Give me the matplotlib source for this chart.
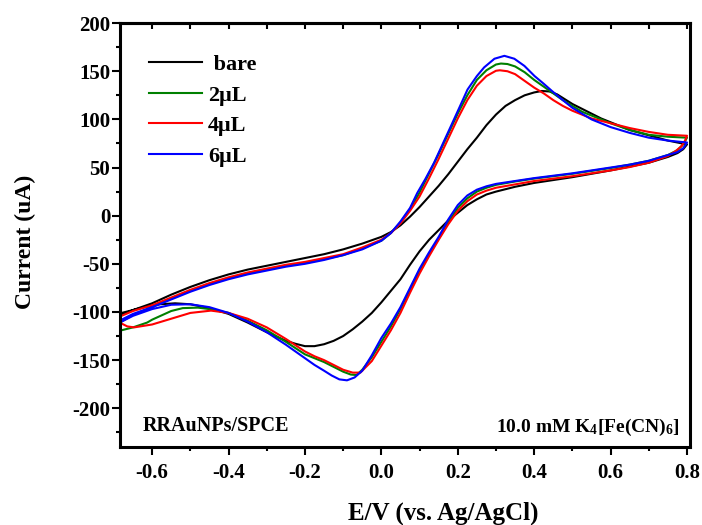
import matplotlib
matplotlib.use("Agg")
import matplotlib.pyplot as plt
from matplotlib.ticker import MultipleLocator

plt.rcParams["font.family"] = ["Liberation Serif", "DejaVu Serif"]
plt.rcParams["font.weight"] = "bold"
plt.rcParams["axes.unicode_minus"] = False
plt.rcParams["mathtext.fontset"] = "custom"
plt.rcParams["mathtext.rm"] = "Liberation Serif:bold"
plt.rcParams["mathtext.default"] = "rm"

# =========================================================
# Data: forward scan, then reverse scan
# =========================================================
bare_E = [-0.68, -0.65, -0.6, -0.55, -0.5, -0.45, -0.4, -0.35, -0.3, -0.25, -0.2, -0.15,
          -0.1, -0.05, 0.0, 0.025, 0.05, 0.075, 0.1, 0.125, 0.15, 0.175, 0.2, 0.225,
          0.25, 0.275, 0.3, 0.325, 0.35, 0.375, 0.4, 0.42, 0.44, 0.46, 0.48, 0.5,
          0.525, 0.55, 0.575, 0.6, 0.65, 0.7, 0.75, 0.8,
          0.79, 0.775, 0.75, 0.7, 0.65, 0.6, 0.55, 0.5, 0.45, 0.4, 0.35, 0.3, 0.275,
          0.25, 0.225, 0.2, 0.175, 0.15, 0.125, 0.1, 0.075, 0.05, 0.025, 0.0, -0.025,
          -0.05, -0.075, -0.1, -0.125, -0.15, -0.175, -0.2, -0.225, -0.25, -0.3, -0.35,
          -0.4, -0.45, -0.5, -0.54, -0.58, -0.62, -0.65, -0.68]
bare_I = [-103, -98, -91, -82, -74, -67, -61, -56, -52, -48, -44, -40,
          -35, -29, -22, -17, -10, -1, 9, 20, 31, 43, 56, 69,
          81, 94, 105, 114, 120, 125, 128, 129.5, 129, 126, 121, 116,
          111, 106, 101, 97, 89, 83.5, 78, 74,
          69, 65, 61, 55, 51, 47, 43.5, 40, 37, 34, 30, 25, 22,
          17, 11, 3, -5, -15, -25, -37, -51, -66, -78, -90, -101,
          -110, -118, -125, -130, -133.5, -135.5, -135.5, -133, -130, -121, -111,
          -102, -96, -92, -91, -92, -95, -98, -101]

ul2_E = [-0.68, -0.65, -0.6, -0.55, -0.5, -0.45, -0.4, -0.35, -0.3, -0.25, -0.2, -0.15,
         -0.1, -0.05, 0.0, 0.025, 0.05, 0.075, 0.1, 0.125, 0.15, 0.175, 0.2, 0.225,
         0.25, 0.275, 0.3, 0.313, 0.33, 0.35, 0.375, 0.4, 0.425, 0.45, 0.475, 0.5,
         0.525, 0.55, 0.6, 0.65, 0.7, 0.75, 0.8,
         0.79, 0.775, 0.75, 0.7, 0.65, 0.6, 0.55, 0.5, 0.45, 0.4, 0.35, 0.3, 0.275,
         0.25, 0.225, 0.2, 0.175, 0.15, 0.125, 0.1, 0.075, 0.05, 0.025, 0.0, -0.025,
         -0.05, -0.065, -0.08, -0.1, -0.125, -0.15, -0.175, -0.2, -0.25, -0.3, -0.35,
         -0.4, -0.45, -0.48, -0.52, -0.55, -0.6, -0.613, -0.65, -0.68]
ul2_I = [-110, -103, -95, -86, -78, -71, -65, -60, -56, -52, -49, -45,
         -41, -34, -26, -18, -7, 7, 24, 44, 64, 85, 106, 125,
         141, 151, 157, 158, 157.5, 155, 149, 141, 134, 127, 120, 114,
         108, 104, 96, 89, 84, 82, 81,
         74, 68, 63, 57, 53, 49.5, 46.5, 43.5, 41, 38.5, 35.5, 32, 29,
         25, 18, 8, -7, -24, -40, -57, -77, -97, -115, -131, -147,
         -160, -165.5, -165, -162, -157, -152, -148, -144, -131, -119, -109,
         -101, -97, -95.5, -96, -99, -108, -111, -116, -119]

ul4_E = [-0.68, -0.65, -0.6, -0.55, -0.5, -0.45, -0.4, -0.35, -0.3, -0.25, -0.2, -0.15,
         -0.1, -0.05, 0.0, 0.025, 0.05, 0.075, 0.1, 0.125, 0.15, 0.175, 0.2, 0.225,
         0.25, 0.275, 0.3, 0.31, 0.33, 0.35, 0.375, 0.4, 0.425, 0.45, 0.475, 0.5,
         0.55, 0.6, 0.65, 0.7, 0.75, 0.8,
         0.795, 0.785, 0.77, 0.75, 0.7, 0.65, 0.6, 0.55, 0.5, 0.45, 0.4, 0.35, 0.3,
         0.275, 0.25, 0.225, 0.2, 0.175, 0.15, 0.125, 0.1, 0.075, 0.05, 0.025, 0.0,
         -0.025, -0.055, -0.075, -0.1, -0.125, -0.15, -0.175, -0.2, -0.25, -0.3, -0.35,
         -0.4, -0.446, -0.5, -0.55, -0.6, -0.647, -0.665, -0.68]
ul4_I = [-104, -99, -93, -85, -77, -70, -64, -59, -55, -51, -48, -44,
         -40, -33, -25, -18, -8, 5, 20, 39, 59, 80, 101, 120,
         135, 145, 150.5, 151, 150, 147, 140, 133, 127, 120, 114, 109,
         101, 96, 91, 87, 84, 83,
         78, 72, 67, 62, 55, 50.5, 47, 44, 41, 38.5, 36, 32.5, 29,
         26, 22, 15, 5, -9, -25, -42, -60, -80, -101, -119, -135,
         -151, -163, -163, -160, -155, -150, -146, -141, -128, -116, -107,
         -101, -98.6, -101, -107, -113, -116, -115, -112]

ul6_E = [-0.68, -0.65, -0.6, -0.55, -0.5, -0.45, -0.4, -0.35, -0.3, -0.25, -0.2, -0.15,
         -0.1, -0.05, 0.0, 0.025, 0.05, 0.075, 0.094, 0.115, 0.138, 0.16, 0.182, 0.205,
         0.2255, 0.25, 0.269, 0.296, 0.322, 0.348, 0.3745, 0.401, 0.425, 0.445, 0.475,
         0.5, 0.525, 0.55, 0.6, 0.65, 0.7, 0.75, 0.8,
         0.79, 0.775, 0.75, 0.7, 0.65, 0.6, 0.55, 0.5, 0.45, 0.4, 0.35, 0.3, 0.275,
         0.25, 0.225, 0.2, 0.175, 0.15, 0.125, 0.1, 0.075, 0.05, 0.025, 0.0, -0.025,
         -0.05, -0.07, -0.09, -0.11, -0.13, -0.15, -0.175, -0.2, -0.25, -0.3, -0.35,
         -0.4, -0.45, -0.5, -0.55, -0.6, -0.65, -0.68]
ul6_I = [-108, -102, -95, -87, -79, -72, -66, -61, -57, -53, -50, -46,
         -41, -35, -26, -18, -6, 8, 23.6, 38, 55, 74, 93, 113,
         131, 145, 154, 163, 166, 163, 155.5, 145, 137, 130, 120,
         112, 106, 100, 92, 86, 81, 78, 76,
         70, 66, 63, 57, 53, 50, 47, 44, 41.5, 39, 36, 33, 30.5,
         27, 21, 11, -4, -22, -38, -55, -75, -95, -112, -127, -145,
         -161, -168, -171, -170, -166, -161, -155, -148, -134, -121, -110,
         -101, -95, -92, -92.5, -97, -104, -110]

labels = [" bare", "2\u03bcL", "4\u03bcL", "6\u03bcL"]
colors = ["black", "green", "red", "blue"]

# =========================================================
# Plot
# =========================================================
fig = plt.figure(figsize=(7.02, 5.25), dpi=100)
ax = fig.add_axes([0.171, 0.149, 0.812, 0.807])

curves = [(bare_E, bare_I), (ul2_E, ul2_I), (ul4_E, ul4_I), (ul6_E, ul6_I)]
for (E, I), lab, c in zip(curves, labels, colors):
    ax.plot(E, I, color=c, lw=1.5, label=lab, solid_joinstyle="round")

ax.set_xlim(-0.684, 0.808)
ax.set_ylim(-240, 200)

ax.xaxis.set_major_locator(MultipleLocator(0.2))
ax.xaxis.set_minor_locator(MultipleLocator(0.1))
ax.yaxis.set_major_locator(MultipleLocator(50))
ax.yaxis.set_minor_locator(MultipleLocator(25))

ax.tick_params(axis="both", which="major", direction="out", length=5.5, width=1.5,
               labelsize=15)
ax.tick_params(axis="both", which="minor", direction="out", length=3, width=1.5)
ax.tick_params(axis="x", which="both", pad=6)
ax.tick_params(axis="y", which="both", pad=1.5)

# short inward ticks along the top edge
top = ax.secondary_xaxis("top")
top.xaxis.set_major_locator(MultipleLocator(0.1))
top.tick_params(axis="x", which="major", direction="in", length=4, width=1.5,
                labeltop=False)
top.spines["top"].set_linewidth(2.2)

for s in ax.spines.values():
    s.set_linewidth(2.2)

for t in ax.get_xticklabels() + ax.get_yticklabels():
    t.set_fontweight("bold")

fig.text(443 / 702, 1 - 520 / 525, "E/V (vs. Ag/AgCl)", fontsize=18,
         fontweight="bold", ha="center", va="baseline")
fig.text(25 / 702, 1 - 242 / 525, "Current (uA)", fontsize=17, fontweight="bold",
         ha="center", va="center", rotation=90)

leg = ax.legend(loc="upper left", frameon=False, fontsize=16, handlelength=2.4,
                handletextpad=0.25, labelspacing=0.45, borderaxespad=0,
                bbox_to_anchor=(0.035, 0.947))
for t in leg.get_texts():
    t.set_fontweight("bold")

ax.text(0.040, 0.038, "RRAuNPs/SPCE", transform=ax.transAxes, fontsize=14.5,
        fontweight="bold", ha="left", va="baseline")
ax.text(0.982, 0.036, r"10.0 mM K$_4$[Fe(CN)$_6$]", transform=ax.transAxes,
        fontsize=14, fontweight="bold", ha="right", va="baseline")

fig.savefig("out.png", dpi=100)
